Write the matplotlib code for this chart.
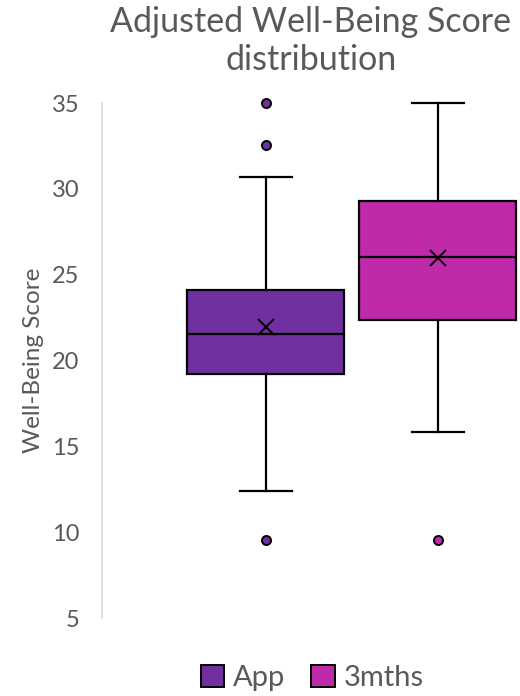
import matplotlib.pyplot as plt
from matplotlib.patches import Patch

# data
groups = ['App', '3mths']
colors = ['#7030A0', '#BE2AAA']
q1 = [19.2, 22.35]
medians = [21.55, 26.05]
q3 = [24.1, 29.3]
means = [21.95, 26.0]
whisk_lo = [12.4, 15.85]
whisk_hi = [30.7, 35.0]
outliers = [[35.0, 32.55, 9.55], [9.55]]

plt.rcParams['font.family'] = ['Lato', 'DejaVu Sans']
grey = '#595959'

fig = plt.figure(figsize=(5.2, 6.96), dpi=100)
ax = fig.add_axes([0.196, 0.112, 0.804, 0.74])

stats = []
for i, name in enumerate(groups):
    stats.append({
        'label': name, 'med': medians[i], 'q1': q1[i], 'q3': q3[i],
        'mean': means[i], 'whislo': whisk_lo[i], 'whishi': whisk_hi[i],
        'fliers': outliers[i],
    })

positions = [0, 1]
bp = ax.bxp(stats, positions=positions, widths=0.913, patch_artist=True,
            showmeans=True, showfliers=True,
            boxprops=dict(edgecolor='black', linewidth=1.6),
            medianprops=dict(color='black', linewidth=1.6),
            whiskerprops=dict(color='black', linewidth=1.6),
            capprops=dict(color='black', linewidth=1.6),
            meanprops=dict(marker='x', markeredgecolor='black', markersize=11,
                           markeredgewidth=1.4),
            capwidths=0.3)

for i, box in enumerate(bp['boxes']):
    box.set_facecolor(colors[i])
for i, fl in enumerate(bp['fliers']):
    fl.set(marker='o', markerfacecolor=colors[i], markeredgecolor='black',
           markersize=6.5, markeredgewidth=1.4)
for art in bp['fliers'] + bp['caps'] + bp['whiskers']:
    art.set_clip_on(False)

ax.set_xlim(-0.953, 1.477)
ax.set_ylim(5, 35)
ax.set_yticks(range(5, 40, 5))
ax.set_xticks([])
for s in ['top', 'right', 'bottom']:
    ax.spines[s].set_visible(False)
ax.spines['left'].set_color('#D9D9D9')
ax.spines['left'].set_linewidth(1.2)
ax.tick_params(axis='y', length=0, pad=16, labelsize=17, labelcolor=grey)

ax.set_ylabel('Well-Being Score', fontsize=17.5, color=grey, labelpad=6)
fig.text(0.598, 1 - 41 / 696, 'Adjusted Well-Being Score\ndistribution',
         fontsize=24.5, color=grey, ha='center', va='center', linespacing=1.25)

handles = [Patch(facecolor=colors[i], edgecolor='black', linewidth=1.4,
                 label=groups[i]) for i in range(2)]
fig.legend(handles=handles, loc='center', bbox_to_anchor=(0.6, 0.026),
           ncol=2, frameon=False, fontsize=21, labelcolor=grey,
           handlelength=0.8, handleheight=0.8, handletextpad=0.3,
           columnspacing=0.9)

fig.savefig('out.png', dpi=100)
